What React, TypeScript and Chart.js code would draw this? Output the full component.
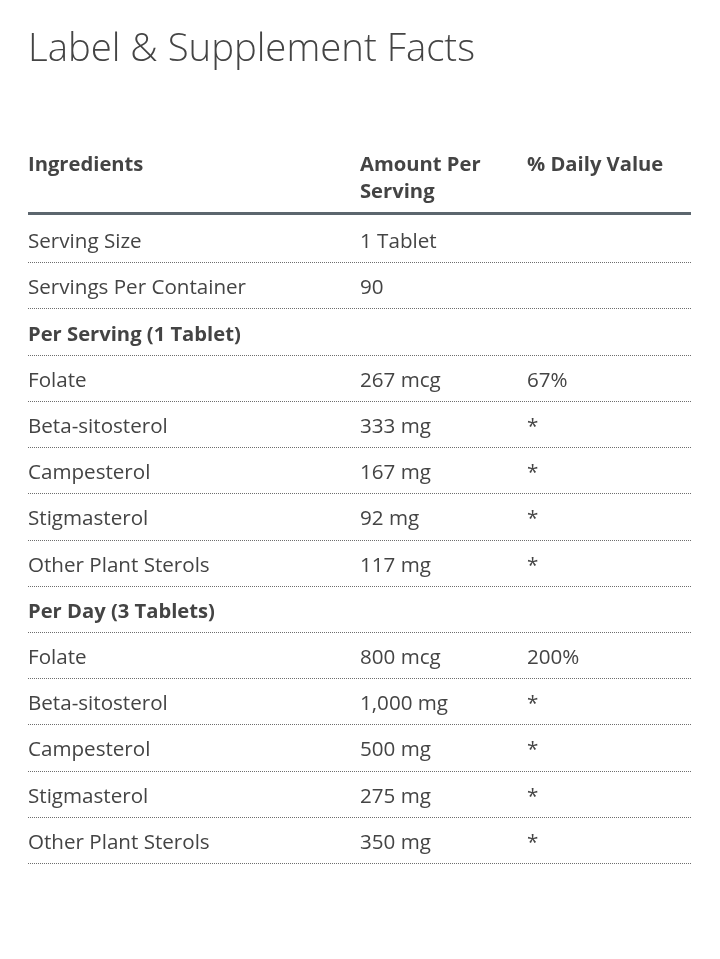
import React, { useEffect, useRef } from "react";
import { Chart, registerables } from "chart.js";

Chart.register(...registerables);

const titleText = "Label & Supplement Facts";
const headers = ["Ingredients", "Amount Per\nServing", "% Daily Value"];
const ingredients = [
  "Serving Size",
  "Servings Per Container",
  "Per Serving (1 Tablet)",
  "Folate",
  "Beta-sitosterol",
  "Campesterol",
  "Stigmasterol",
  "Other Plant Sterols",
  "Per Day (3 Tablets)",
  "Folate",
  "Beta-sitosterol",
  "Campesterol",
  "Stigmasterol",
  "Other Plant Sterols",
];
const amounts = [
  "1 Tablet", "90", "", "267 mcg", "333 mg", "167 mg", "92 mg", "117 mg",
  "", "800 mcg", "1,000 mg", "500 mg", "275 mg", "350 mg",
];
const dailyValues = [
  "", "", "", "67%", "*", "*", "*", "*",
  "", "200%", "*", "*", "*", "*",
];
const sectionRows = [false, false, true, false, false, false, false, false, true, false, false, false, false, false];

const FONT = "'Open Sans', 'Noto Sans', sans-serif";
const TEXT = "#444444";
const COLS = [28, 360, 527];

const tablePlugin = {
  id: "tablePlugin",
  afterDraw(chart: any) {
    const ctx = chart.ctx as CanvasRenderingContext2D;
    const y = chart.scales.y;
    const area = chart.chartArea;
    ctx.save();
    // title
    ctx.fillStyle = TEXT;
    ctx.textAlign = "left";
    ctx.textBaseline = "alphabetic";
    ctx.font = `300 38.3px ${FONT}`;
    ctx.fillText(titleText, 28, 61);
    // headers
    ctx.font = `bold 20.2px ${FONT}`;
    headers.forEach((h, i) => {
      h.split("\n").forEach((ln, j) => {
        ctx.fillText(ln, COLS[i], 171 + j * 27);
      });
    });
    // thick line
    ctx.fillStyle = "#5c666e";
    ctx.fillRect(area.left, 212, area.right - area.left, 3);
    // rows
    const n = ingredients.length;
    const half = (y.getPixelForValue(1) - y.getPixelForValue(0)) / 2;
    for (let i = 0; i < n; i++) {
      const cy = y.getPixelForValue(i);
      ctx.fillStyle = TEXT;
      ctx.font = `${sectionRows[i] ? "bold 20.2px" : "normal 20.6px"} ${FONT}`;
      ctx.fillText(ingredients[i], COLS[0], cy + 8);
      ctx.font = `normal 20.6px ${FONT}`;
      if (amounts[i]) ctx.fillText(amounts[i], COLS[1], cy + 8);
      if (dailyValues[i]) ctx.fillText(dailyValues[i], COLS[2], cy + 8);
      const ly = Math.round(cy + half) - 0.5;
      ctx.strokeStyle = "#6e6e6e";
      ctx.lineWidth = 1;
      ctx.setLineDash([1, 1]);
      ctx.beginPath();
      ctx.moveTo(area.left, ly);
      ctx.lineTo(area.right, ly);
      ctx.stroke();
    }
    ctx.restore();
  },
};

export default function App() {
  const ref = useRef<HTMLCanvasElement>(null);
  useEffect(() => {
    if (!ref.current) return;
    const chart = new Chart(ref.current, {
      type: "bar",
      data: {
        labels: ingredients,
        datasets: [{ data: ingredients.map(() => null), backgroundColor: "transparent" }],
      },
      options: {
        indexAxis: "y",
        responsive: false,
        animation: false,
        events: [],
        layout: { padding: { top: 217, bottom: 95, left: 28, right: 29 } },
        plugins: { legend: { display: false }, tooltip: { enabled: false }, title: { display: false } },
        scales: {
          y: { type: "category", offset: true, display: false },
          x: { type: "linear", display: false, min: 0, max: 1 },
        },
      },
      plugins: [tablePlugin],
    } as any);
    return () => chart.destroy();
  }, []);
  return (
    <div style={{ position: "absolute", left: 0, top: 0, width: 720, height: 959, background: "#fff" }}>
      <canvas ref={ref} width={720} height={959} />
    </div>
  );
}
